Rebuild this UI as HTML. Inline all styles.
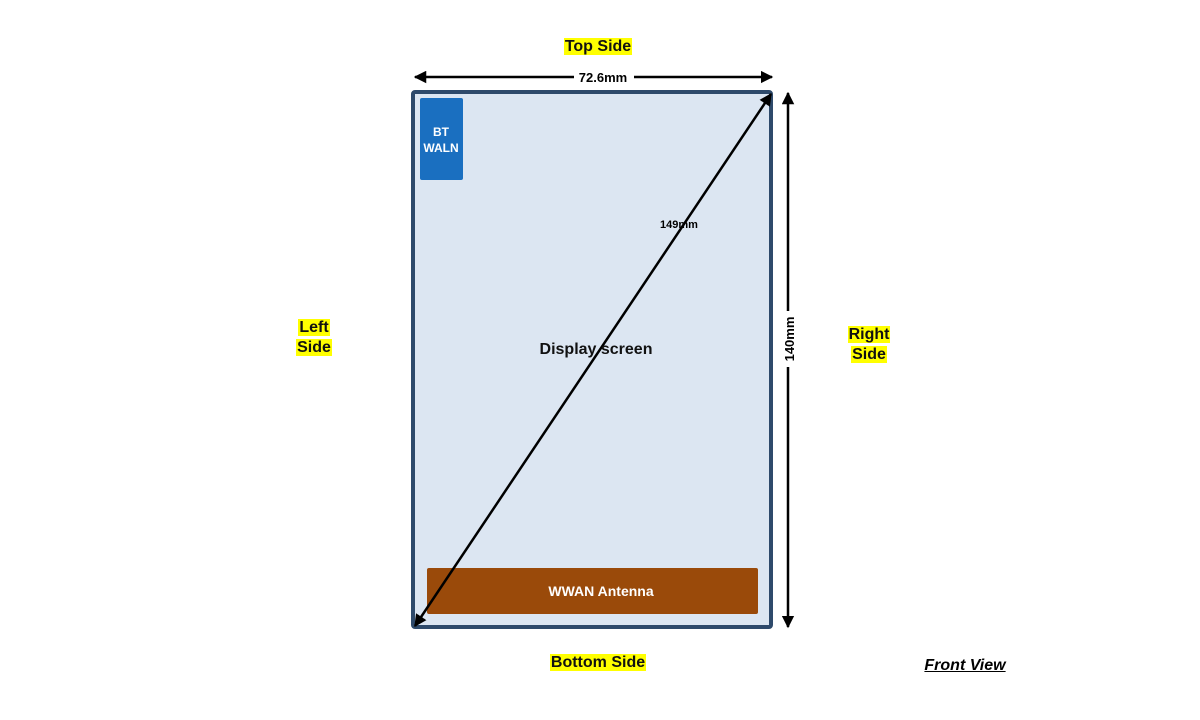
<!DOCTYPE html>
<html><head><style>
body{margin:0;width:1200px;height:720px;background:#fff;position:relative;font-family:"Liberation Sans",sans-serif;overflow:hidden}
.y{position:absolute;font-weight:bold;font-size:16px;color:#111;text-align:center;line-height:20px}
.y span{background:#ffff00;padding:0 1px}
</style></head><body>
<svg width="1200" height="720" style="position:absolute;left:0;top:0">
<defs>
<marker id="a" viewBox="0 0 10 10" refX="9" refY="5" markerWidth="5" markerHeight="5" orient="auto-start-reverse"><path d="M0,0 L10,5 L0,10 z" fill="#000"/></marker>
</defs>
<rect x="413" y="92" width="358" height="535" fill="#dce6f2" stroke="#2e4a6b" stroke-width="4" rx="2"/>
<rect x="420" y="98" width="43" height="82" fill="#1a6fc0" rx="2"/>
<rect x="427" y="568" width="331" height="46" fill="#9a4a0a" rx="2"/>
<line x1="415" y1="77" x2="772" y2="77" stroke="#000" stroke-width="2.5" marker-start="url(#a)" marker-end="url(#a)"/>
<line x1="788" y1="93" x2="788" y2="627" stroke="#000" stroke-width="2.5" marker-start="url(#a)" marker-end="url(#a)"/>
<line x1="415" y1="626" x2="771" y2="94" stroke="#000" stroke-width="2.5" marker-start="url(#a)" marker-end="url(#a)"/>
<rect x="574" y="70" width="60" height="14" fill="#fff"/>
<text x="603" y="82" font-size="13" font-weight="bold" text-anchor="middle" font-family="Liberation Sans">72.6mm</text>
<rect x="781" y="311" width="14" height="56" fill="#fff"/>
<text transform="translate(794,339) rotate(-90)" font-size="13" font-weight="bold" text-anchor="middle" font-family="Liberation Sans">140mm</text>
<text x="679" y="228" font-size="11" font-weight="bold" text-anchor="middle" font-family="Liberation Sans">149mm</text>
<text x="596" y="354" font-size="16" font-weight="bold" text-anchor="middle" font-family="Liberation Sans" fill="#111">Display screen</text>
<text x="441" y="136" font-size="12" font-weight="bold" text-anchor="middle" fill="#fff" font-family="Liberation Sans">BT</text>
<text x="441" y="152" font-size="12" font-weight="bold" text-anchor="middle" fill="#fff" font-family="Liberation Sans">WALN</text>
<text x="601" y="596" font-size="14" font-weight="bold" text-anchor="middle" fill="#fff" font-family="Liberation Sans">WWAN Antenna</text>
</svg>
<div class="y" style="left:548px;top:37px;width:100px"><span>Top Side</span></div>
<div class="y" style="left:264px;top:318px;width:100px"><span>Left</span><br><span>Side</span></div>
<div class="y" style="left:819px;top:325px;width:100px"><span>Right</span><br><span>Side</span></div>
<div class="y" style="left:528px;top:653px;width:140px"><span>Bottom Side</span></div>
<div style="position:absolute;left:905px;top:657px;width:120px;text-align:center;font-weight:bold;font-style:italic;text-decoration:underline;font-size:16px">Front View</div>
</body></html>
